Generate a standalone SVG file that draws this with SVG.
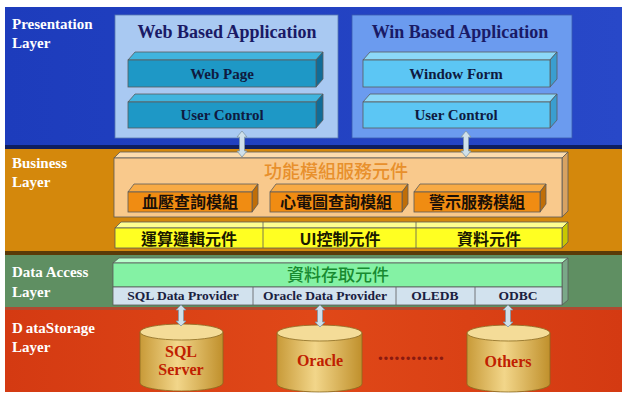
<svg xmlns="http://www.w3.org/2000/svg" width="625" height="394" viewBox="0 0 625 394">
  <style>
    .lbl { font-family: "Liberation Serif", serif; font-weight: bold; font-size: 15px; fill: #ffffff; }
    .ttl { font-family: "Liberation Serif", serif; font-weight: bold; font-size: 18px; fill: #1a1a66; text-anchor: middle; }
    .bar { font-family: "Liberation Serif", serif; font-weight: bold; font-size: 15px; fill: #0f1a40; text-anchor: middle; }
    .prov { font-family: "Liberation Serif", serif; font-weight: bold; font-size: 13.5px; fill: #1a2040; text-anchor: middle; }
    .cjk { font-family: "Noto Sans CJK TC", "Noto Sans CJK SC", sans-serif; font-weight: bold; text-anchor: middle; }
    .cjk-light { font-family: "Noto Sans CJK TC", "Noto Sans CJK SC", sans-serif; font-weight: 500; text-anchor: middle; }
    .db { font-family: "Liberation Serif", serif; font-weight: bold; font-size: 16px; fill: #c02000; text-anchor: middle; }
    .edge { stroke: #5a5a5a; stroke-width: 0.8; }
    .arrow { fill: #cfe0ea; stroke: #7f98a8; stroke-width: 0.8; }
  </style>
  <defs>
    <linearGradient id="gBlue" x1="0" y1="0" x2="1" y2="0">
      <stop offset="0" stop-color="#1d3cbc"/>
      <stop offset="1" stop-color="#2848c8"/>
    </linearGradient>
    <linearGradient id="gCyl" x1="0" y1="0" x2="1" y2="0">
      <stop offset="0" stop-color="#c89a38"/>
      <stop offset="0.45" stop-color="#f2d68a"/>
      <stop offset="1" stop-color="#c0902c"/>
    </linearGradient>
    <linearGradient id="gRed" x1="0" y1="0" x2="1" y2="0">
      <stop offset="0" stop-color="#d43a12"/>
      <stop offset="0.5" stop-color="#e04818"/>
      <stop offset="1" stop-color="#d43a12"/>
    </linearGradient>
  </defs>

  <rect x="0" y="0" width="625" height="394" fill="#ffffff"/>

  <!-- layer bands -->
  <g id="presentation-layer">
    <rect x="5" y="7" width="617" height="141" fill="url(#gBlue)"/>
    <rect x="5" y="145" width="617" height="4" fill="#0e1e60"/>
    <text class="lbl" x="12" y="29">Presentation</text>
    <text class="lbl" x="12" y="48">Layer</text>
  </g>
  <g id="business-layer">
    <rect x="5" y="149" width="617" height="105" fill="#d4880c"/>
    <rect x="5" y="251" width="617" height="4" fill="#5a3a08"/>
    <text class="lbl" x="12" y="168">Business</text>
    <text class="lbl" x="12" y="187">Layer</text>
  </g>
  <g id="data-access-layer">
    <rect x="5" y="255" width="617" height="55" fill="#5f8f62"/>
    <rect x="5" y="307" width="617" height="3" fill="#b04a30"/>
    <text class="lbl" x="12" y="277">Data Access</text>
    <text class="lbl" x="12" y="297">Layer</text>
  </g>
  <g id="data-storage-layer">
    <rect x="5" y="310" width="617" height="82" fill="url(#gRed)"/>
    <text class="lbl" x="12" y="333"><tspan>D</tspan><tspan dx="3">ataStorage</tspan></text>
    <text class="lbl" x="12" y="352">Layer</text>
  </g>

  <!-- web application panel -->
  <g id="web-app">
    <rect x="115" y="15" width="223" height="123" fill="#a9c9f2" stroke="#5a7ab0" stroke-width="0.8"/>
    <text class="ttl" x="227" y="38">Web Based Application</text>
  </g>
  <g id="web-page">
    <polygon points="128,60 135,52 323,52 316,60" fill="#40b4de" class="edge"/>
    <polygon points="316,60 323,52 323,79 316,87" fill="#106c98" class="edge"/>
    <rect x="128" y="60" width="188" height="27" fill="#1e98c6" class="edge"/>
    <text class="bar" x="222" y="79">Web Page</text>
  </g>
  <g id="web-user-control">
    <polygon points="128,102 135,94 323,94 316,102" fill="#40b4de" class="edge"/>
    <polygon points="316,102 323,94 323,120 316,128" fill="#106c98" class="edge"/>
    <rect x="128" y="102" width="188" height="26" fill="#1e98c6" class="edge"/>
    <text class="bar" x="222" y="120">User Control</text>
  </g>

  <!-- windows application panel -->
  <g id="win-app">
    <rect x="352" y="15" width="220" height="123" fill="#6b9bef" stroke="#3a5ab0" stroke-width="0.8"/>
    <text class="ttl" x="460" y="38">Win Based Application</text>
  </g>
  <g id="window-form">
    <polygon points="363,60 370,52 557,52 550,60" fill="#8cd8f8" class="edge"/>
    <polygon points="550,60 557,52 557,79 550,87" fill="#3a9ed0" class="edge"/>
    <rect x="363" y="60" width="187" height="27" fill="#5cc6f4" class="edge"/>
    <text class="bar" x="456" y="79">Window Form</text>
  </g>
  <g id="win-user-control">
    <polygon points="363,102 370,94 557,94 550,102" fill="#8cd8f8" class="edge"/>
    <polygon points="550,102 557,94 557,120 550,128" fill="#3a9ed0" class="edge"/>
    <rect x="363" y="102" width="187" height="26" fill="#5cc6f4" class="edge"/>
    <text class="bar" x="456" y="120">User Control</text>
  </g>

  <!-- business service components -->
  <g id="service-components">
    <polygon points="114,158 120,152 568,152 562,158" fill="#fcdcae" class="edge"/>
    <polygon points="562,158 568,152 568,211 562,217" fill="#d8a262" class="edge"/>
    <rect x="114" y="158" width="448" height="59" fill="#f9c98c" class="edge"/>
    <text class="cjk-light" x="336" y="178" font-size="18" fill="#e8902c">功能模組服務元件</text>
  </g>
  <g id="bp-module">
    <polygon points="128,192 134,184 258,184 252,192" fill="#f8aa44" class="edge"/>
    <polygon points="252,192 258,184 258,204 252,212" fill="#c06e08" class="edge"/>
    <rect x="128" y="192" width="124" height="20" fill="#f08c12" class="edge"/>
    <text class="cjk" x="190" y="208" font-size="16" fill="#1a1008">血壓查詢模組</text>
  </g>
  <g id="ecg-module">
    <polygon points="270,192 276,184 408,184 402,192" fill="#f8aa44" class="edge"/>
    <polygon points="402,192 408,184 408,204 402,212" fill="#c06e08" class="edge"/>
    <rect x="270" y="192" width="132" height="20" fill="#f08c12" class="edge"/>
    <text class="cjk" x="336" y="208" font-size="16" fill="#1a1008">心電圖查詢模組</text>
  </g>
  <g id="alert-module">
    <polygon points="414,192 420,184 546,184 540,192" fill="#f8aa44" class="edge"/>
    <polygon points="540,192 546,184 546,204 540,212" fill="#c06e08" class="edge"/>
    <rect x="414" y="192" width="126" height="20" fill="#f08c12" class="edge"/>
    <text class="cjk" x="477" y="208" font-size="16" fill="#1a1008">警示服務模組</text>
  </g>

  <!-- logic / UI / data components -->
  <g id="logic-components">
    <polygon points="115,228 121,222 568,222 562,228" fill="#ffff90" class="edge"/>
    <polygon points="562,228 568,222 568,242 562,248" fill="#c8c800" class="edge"/>
    <rect x="115" y="228" width="447" height="20" fill="#ffff22" class="edge"/>
    <line x1="263" y1="222" x2="263" y2="248" class="edge"/>
    <line x1="416" y1="222" x2="416" y2="248" class="edge"/>
    <text class="cjk" x="189" y="245" font-size="16" fill="#1a1a00">運算邏輯元件</text>
    <text class="cjk" x="340" y="245" font-size="16" fill="#1a1a00">UI控制元件</text>
    <text class="cjk" x="489" y="245" font-size="16" fill="#1a1a00">資料元件</text>
  </g>

  <!-- data access components -->
  <g id="data-access-components">
    <polygon points="113,263 119,258 568,258 562,263" fill="#b8ffcc" class="edge"/>
    <polygon points="562,263 568,258 568,300 562,305" fill="#7aa888" class="edge"/>
    <rect x="113" y="263" width="449" height="24" fill="#84f2a4" class="edge"/>
    <text class="cjk-light" x="338" y="281" font-size="17" fill="#188a30">資料存取元件</text>
  </g>
  <g id="providers">
    <rect x="113" y="287" width="449" height="18" fill="#d2e2ee" class="edge"/>
    <line x1="253" y1="287" x2="253" y2="305" class="edge"/>
    <line x1="396" y1="287" x2="396" y2="305" class="edge"/>
    <line x1="475" y1="287" x2="475" y2="305" class="edge"/>
    <text class="prov" x="183" y="300">SQL Data Provider</text>
    <text class="prov" x="325" y="300">Oracle Data Provider</text>
    <text class="prov" x="435" y="300">OLEDB</text>
    <text class="prov" x="518" y="300">ODBC</text>
  </g>

  <!-- databases -->
  <g id="sql-server">
    <path d="M140,332 V383 A41.5,8 0 0 0 223,383 V332 Z" fill="url(#gCyl)" stroke="#8a6a20" stroke-width="0.8"/>
    <ellipse cx="181.5" cy="332" rx="41.5" ry="8" fill="#f4dc98" stroke="#8a6a20" stroke-width="0.8"/>
    <text class="db" x="181" y="357">SQL</text>
    <text class="db" x="181" y="375">Server</text>
  </g>
  <g id="oracle">
    <path d="M277,333 V384 A42.5,8 0 0 0 362,384 V333 Z" fill="url(#gCyl)" stroke="#8a6a20" stroke-width="0.8"/>
    <ellipse cx="319.5" cy="333" rx="42.5" ry="8" fill="#f4dc98" stroke="#8a6a20" stroke-width="0.8"/>
    <text class="db" x="320" y="366">Oracle</text>
  </g>
  <g id="ellipsis">
    <text x="411" y="360" font-family="Liberation Serif, serif" font-weight="bold" font-size="21" letter-spacing="0.3" fill="#8a1a10" text-anchor="middle">............</text>
  </g>
  <g id="others">
    <path d="M467,333 V384 A41.5,8 0 0 0 550,384 V333 Z" fill="url(#gCyl)" stroke="#8a6a20" stroke-width="0.8"/>
    <ellipse cx="508.5" cy="333" rx="41.5" ry="8" fill="#f4dc98" stroke="#8a6a20" stroke-width="0.8"/>
    <text class="db" x="508" y="367">Others</text>
  </g>

  <!-- connectors: double-headed block arrows -->
  <g id="connectors">
    <polygon class="arrow" points="242,131 247,137 244.5,137 244.5,151 247,151 242,157 237,151 239.5,151 239.5,137 237,137"/>
    <polygon class="arrow" points="466,131 471,137 468.5,137 468.5,151 471,151 466,157 461,151 463.5,151 463.5,137 461,137"/>
    <polygon class="arrow" points="181,305 186,310 183.5,310 183.5,321 186,321 181,326 176,321 178.5,321 178.5,310 176,310"/>
    <polygon class="arrow" points="320,305 325,310 322.5,310 322.5,322 325,322 320,327 315,322 317.5,322 317.5,310 315,310"/>
    <polygon class="arrow" points="508,305 513,310 510.5,310 510.5,322 513,322 508,327 503,322 505.5,322 505.5,310 503,310"/>
  </g>
</svg>
